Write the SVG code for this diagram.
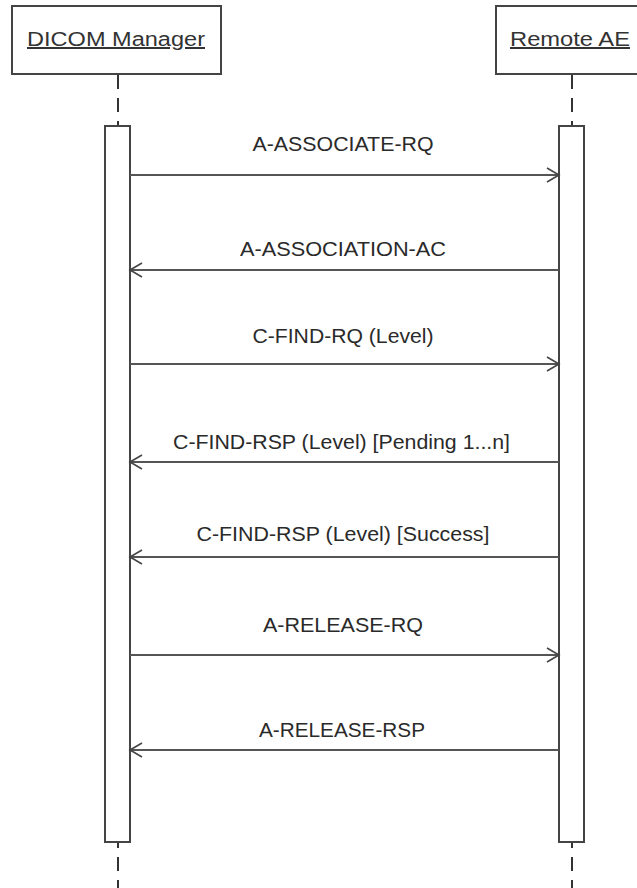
<svg xmlns="http://www.w3.org/2000/svg" width="637" height="888" viewBox="0 0 637 888">
<defs>
<style>
.hdr{fill:#fff;stroke:#444;stroke-width:2}
.htxt{font-family:"Liberation Sans",Arial,sans-serif;font-size:20px;fill:#333;text-decoration:underline}
.life{stroke:#333;stroke-width:2;stroke-dasharray:14 9;fill:none}
.act{fill:#fff;stroke:#444;stroke-width:2}
.msg{stroke:#555;stroke-width:2.2;fill:none;marker-end:url(#ah)}
.mtxt{font-family:"Liberation Sans",Arial,sans-serif;font-size:20px;fill:#2a2a2a;text-anchor:middle}
</style>
<marker id="ah" markerUnits="userSpaceOnUse" markerWidth="16" markerHeight="18" refX="13" refY="8" orient="auto">
<path d="M1,1 L13,8 L1,15" fill="none" stroke="#444" stroke-width="1.6"/>
</marker>
</defs>
<rect width="637" height="888" fill="#fff"/>
<g id="lifelines">
<line class="life" x1="118" y1="75" x2="118" y2="888"/>
<line class="life" x1="572" y1="75" x2="572" y2="888"/>
</g>
<g id="dicom-manager">
<rect class="hdr" x="12" y="6" width="209" height="68"/>
<text class="htxt" x="27" y="46" textLength="178" lengthAdjust="spacingAndGlyphs">DICOM Manager</text>
<rect class="act" x="105" y="126" width="25" height="716"/>
</g>
<g id="remote-ae">
<rect class="hdr" x="496" y="6" width="145" height="68"/>
<text class="htxt" x="510" y="46" textLength="120" lengthAdjust="spacingAndGlyphs">Remote AE</text>
<rect class="act" x="559" y="126" width="25" height="716"/>
</g>
<g id="connectors">
<line class="msg" x1="130" y1="175" x2="559" y2="175"/>
<line class="msg" x1="559" y1="270" x2="130" y2="270"/>
<line class="msg" x1="130" y1="364" x2="559" y2="364"/>
<line class="msg" x1="559" y1="462" x2="130" y2="462"/>
<line class="msg" x1="559" y1="557" x2="130" y2="557"/>
<line class="msg" x1="130" y1="655" x2="559" y2="655"/>
<line class="msg" x1="559" y1="750" x2="130" y2="750"/>
<text class="mtxt" x="343" y="151" textLength="181" lengthAdjust="spacingAndGlyphs">A-ASSOCIATE-RQ</text>
<text class="mtxt" x="343" y="256" textLength="206" lengthAdjust="spacingAndGlyphs">A-ASSOCIATION-AC</text>
<text class="mtxt" x="343" y="343" textLength="181" lengthAdjust="spacingAndGlyphs">C-FIND-RQ (Level)</text>
<text class="mtxt" x="341.5" y="449" textLength="337" lengthAdjust="spacingAndGlyphs">C-FIND-RSP (Level) [Pending 1...n]</text>
<text class="mtxt" x="343" y="541" textLength="293" lengthAdjust="spacingAndGlyphs">C-FIND-RSP (Level) [Success]</text>
<text class="mtxt" x="343" y="632" textLength="160" lengthAdjust="spacingAndGlyphs">A-RELEASE-RQ</text>
<text class="mtxt" x="342" y="737" textLength="166" lengthAdjust="spacingAndGlyphs">A-RELEASE-RSP</text>
</g>
</svg>
